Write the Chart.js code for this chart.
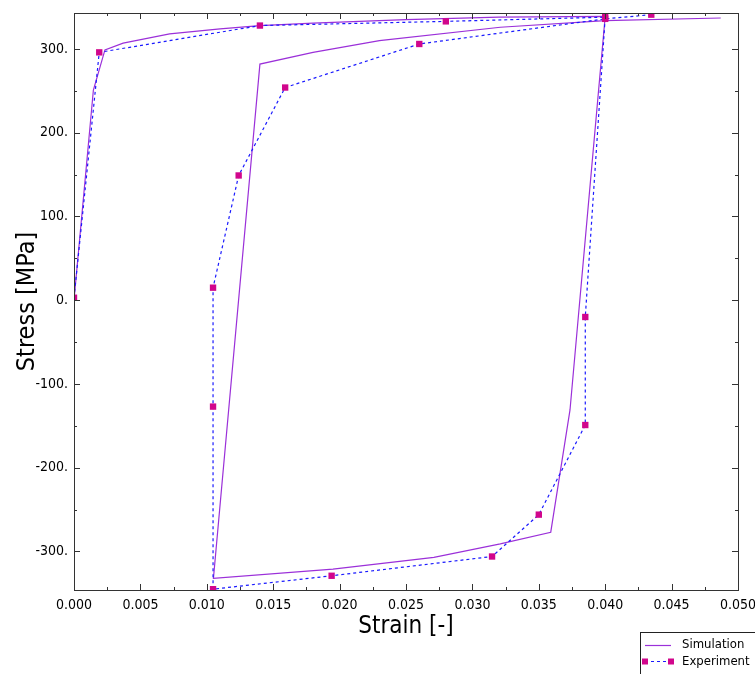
<!DOCTYPE html>
<html>
<head>
<meta charset="utf-8">
<script src="https://cdn.jsdelivr.net/npm/chart.js@4/dist/chart.umd.min.js"></script>
<style>
  body { margin: 0; background: #fff; }
  canvas { display: block; }
</style>
</head>
<body>
<canvas id="loopChart" width="755" height="674"></canvas>
<script>
// simulation curve: strain [-], stress [MPa]
var simStrain = [0, 0.00146, 0.00233, 0.0037, 0.0072, 0.0110, 0.0140, 0.0180, 0.0250, 0.0320, 0.0400,
                 0.03735, 0.0359, 0.0321, 0.0271, 0.0195, 0.0105,
                 0.0140, 0.0180, 0.0230, 0.0321, 0.0400, 0.0487];
var simStress = [0, 251, 299, 307, 318, 324, 328, 331, 335, 338, 339,
                 -131, -277, -291, -307, -321, -332,
                 282, 296, 310, 326, 334, 337];
// experiment points
var expStrain = [0, 0.0019, 0.0140, 0.0280, 0.0400, 0.0385, 0.0385, 0.0350, 0.03148, 0.0194, 0.01047,
                 0.01047, 0.01047, 0.0124, 0.0159, 0.0260, 0.0400, 0.04347];
var expStress = [3, 296, 328, 333, 338, -20, -149, -256, -306, -329, -345,
                 -127, 15, 149, 254, 306, 336, 341];
var xTicks = [0, 0.005, 0.010, 0.015, 0.020, 0.025, 0.030, 0.035, 0.040, 0.045, 0.050];
var yTicks = [-300, -200, -100, 0, 100, 200, 300];

var simColor = '#9b30d9';
var expLine = '#1a1aff';
var expMarker = '#d1068c';
var fontFam = "'DejaVu Sans Condensed', 'DejaVu Sans', sans-serif";

function toPts(xs, ys) {
    return xs.map(function (x, i) { return {x: x, y: ys[i]}; });
}

// inward ticks on all four sides + frame
var frameTicks = {
    id: 'frameTicks',
    afterDatasetsDraw: function (chart) {
        var ctx = chart.ctx, a = chart.chartArea;
        var sx = chart.scales.x, sy = chart.scales.y;
        ctx.save();
        ctx.strokeStyle = '#333';
        ctx.lineWidth = 1;
        var v, p, len;
        for (v = 0; v <= 0.05 + 1e-9; v += 0.0025) {
            p = Math.round(sx.getPixelForValue(v)) + 0.5;
            len = (Math.round(v / 0.0025) % 2 === 0) ? 6 : 3;
            ctx.beginPath();
            ctx.moveTo(p, a.bottom); ctx.lineTo(p, a.bottom - len);
            ctx.moveTo(p, a.top); ctx.lineTo(p, a.top + len);
            ctx.stroke();
        }
        for (v = -300; v <= 300; v += 50) {
            p = Math.round(sy.getPixelForValue(v)) + 0.5;
            len = (v % 100 === 0) ? 6 : 3;
            ctx.beginPath();
            ctx.moveTo(a.left, p); ctx.lineTo(a.left + len, p);
            ctx.moveTo(a.right, p); ctx.lineTo(a.right - len, p);
            ctx.stroke();
        }
        ctx.strokeRect(Math.round(a.left) + 0.5, Math.round(a.top) + 0.5,
            Math.round(a.right - a.left), Math.round(a.bottom - a.top));
        ctx.restore();
    }
};

// boxed legend in the lower right corner
var cornerLegend = {
    id: 'cornerLegend',
    afterDraw: function (chart) {
        var ctx = chart.ctx;
        ctx.save();
        ctx.fillStyle = '#fff';
        ctx.fillRect(641, 633, 120, 50);
        ctx.strokeStyle = '#222';
        ctx.lineWidth = 1;
        ctx.strokeRect(640.5, 632.5, 130, 50);
        ctx.strokeStyle = simColor;
        ctx.lineWidth = 1.2;
        ctx.beginPath(); ctx.moveTo(645, 645.5); ctx.lineTo(671, 645.5); ctx.stroke();
        ctx.strokeStyle = expLine;
        ctx.setLineDash([3, 3]);
        ctx.beginPath(); ctx.moveTo(645, 661.5); ctx.lineTo(671, 661.5); ctx.stroke();
        ctx.setLineDash([]);
        ctx.fillStyle = expMarker;
        ctx.fillRect(642, 658.5, 6, 6);
        ctx.fillRect(668, 658.5, 6, 6);
        ctx.fillStyle = '#000';
        ctx.font = '13px ' + fontFam;
        ctx.textBaseline = 'middle';
        ctx.fillText(chart.data.datasets[1].label, 682, 645);
        ctx.fillText(chart.data.datasets[0].label, 682, 662);
        ctx.restore();
    }
};

var ctxLoop = document.getElementById('loopChart');
var loopChart = new Chart(ctxLoop, {
    type: 'scatter',
    data: {
        datasets: [{
            label: 'Experiment',
            data: toPts(expStrain, expStress),
            showLine: true,
            borderColor: expLine,
            borderWidth: 1.2,
            borderDash: [3, 3],
            pointStyle: 'rect',
            pointRadius: 4.5,
            pointBackgroundColor: expMarker,
            pointBorderWidth: 0,
            order: 0
        }, {
            label: 'Simulation',
            data: toPts(simStrain, simStress),
            showLine: true,
            borderColor: simColor,
            borderWidth: 1.2,
            pointRadius: 0,
            order: 1
        }]
    },
    options: {
        responsive: false,
        animation: false,
        events: [],
        layout: {padding: {left: 0, right: 17, top: 13, bottom: 33}},
        plugins: {legend: {display: false}, tooltip: {enabled: false}},
        scales: {
            x: {
                type: 'linear',
                min: 0,
                max: 0.05,
                afterFit: function (s) { s.height = 51; s.paddingRight = 0; s.paddingLeft = 0; },
                afterBuildTicks: function (s) { s.ticks = xTicks.map(function (v) { return {value: v}; }); },
                grid: {display: false, drawTicks: false},
                border: {display: false},
                ticks: {
                    padding: 7,
                    color: '#000',
                    font: {family: fontFam, size: 14},
                    maxRotation: 0,
                    callback: function (v) { return v.toFixed(3); }
                },
                title: {display: true, text: 'Strain [-]', color: '#000',
                        font: {family: fontFam, size: 24}, padding: {top: 0, bottom: 0}}
            },
            y: {
                type: 'linear',
                min: -346,
                max: 343,
                afterFit: function (s) { s.width = 74; s.paddingTop = 0; s.paddingBottom = 0; },
                afterBuildTicks: function (s) { s.ticks = yTicks.map(function (v) { return {value: v}; }); },
                grid: {display: false, drawTicks: false},
                border: {display: false},
                ticks: {
                    padding: 6,
                    color: '#000',
                    font: {family: fontFam, size: 14},
                    callback: function (v) { return v + '.'; }
                },
                title: {display: true, text: 'Stress [MPa]', color: '#000',
                        font: {family: fontFam, size: 25}, padding: {top: 12, bottom: 0}}
            }
        }
    },
    plugins: [frameTicks, cornerLegend]
});
</script>
</body>
</html>
